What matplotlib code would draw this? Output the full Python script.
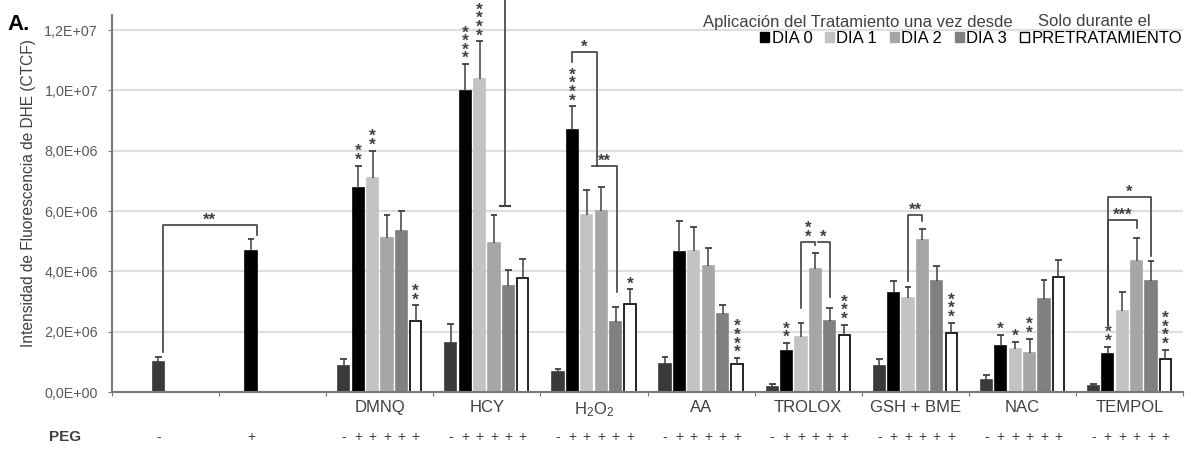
import numpy as np
import matplotlib
matplotlib.use('Agg')
import matplotlib.pyplot as plt
from matplotlib.patches import Patch
from matplotlib.ticker import FuncFormatter

plt.rcParams['font.family'] = ['Liberation Sans', 'DejaVu Sans']
plt.rcParams['mathtext.fontset'] = 'custom'
plt.rcParams['mathtext.rm'] = 'Liberation Sans'

# data (values in units of 1e6 CTCF)
treatments = ['DMNQ', 'HCY', r'$\mathrm{H_2O_2}$', 'AA', 'TROLOX', 'GSH + BME', 'NAC', 'TEMPOL']
series = ['control', 'DIA 0', 'DIA 1', 'DIA 2', 'DIA 3', 'PRETRATAMIENTO']
peg_signs = ['-', '+', '+', '+', '+', '+']

ctrl_mean = [1.00, 4.67]     # first two groups: PEG - / PEG +
ctrl_sem = [0.17, 0.40]
ctrl_slot = [2, 1]

means = [
    [0.87, 6.77, 7.10, 5.10, 5.33, 2.37],   # DMNQ
    [1.63, 9.97, 10.37, 4.93, 3.53, 3.77],  # HCY
    [0.67, 8.70, 5.87, 6.00, 2.33, 2.93],   # H2O2
    [0.93, 4.63, 4.67, 4.17, 2.60, 0.93],   # AA
    [0.17, 1.37, 1.83, 4.07, 2.37, 1.90],   # TROLOX
    [0.87, 3.27, 3.13, 5.03, 3.67, 1.97],   # GSH + BME
    [0.40, 1.53, 1.43, 1.30, 3.07, 3.80],   # NAC
    [0.20, 1.27, 2.70, 4.33, 3.67, 1.10],   # TEMPOL
]
sems = [
    [0.23, 0.73, 0.90, 0.77, 0.67, 0.50],
    [0.64, 0.90, 1.26, 0.94, 0.50, 0.63],
    [0.10, 0.77, 0.83, 0.80, 0.50, 0.47],
    [0.24, 1.04, 0.80, 0.60, 0.27, 0.20],
    [0.10, 0.26, 0.47, 0.53, 0.43, 0.33],
    [0.23, 0.40, 0.34, 0.37, 0.50, 0.33],
    [0.17, 0.37, 0.24, 0.47, 0.63, 0.57],
    [0.05, 0.23, 0.60, 0.77, 0.66, 0.30],
]
# stars above single bars: (treatment index, slot, label)
bar_stars = [
    (0, 1, '**'), (0, 2, '**'), (0, 5, '**'),
    (1, 1, '****'), (1, 2, '****'),
    (2, 1, '****'), (2, 5, '*'),
    (3, 5, '****'),
    (4, 1, '**'), (4, 5, '***'),
    (5, 5, '***'),
    (6, 1, '*'), (6, 2, '*'), (6, 3, '**'),
    (7, 1, '**'), (7, 5, '****'),
]
# brackets: (group L, slot L, group R, slot R, y left, y top, y right, label, vertical label)
brackets = [
    (0, 2.3, 1, 1.4, 1.33, 5.54, 5.20, '**', False),
    (4, 1, 4, 2.7, 10.94, 11.27, 7.49, '*', False),
    (4, 2.35, 4, 4.1, 7.49, 7.49, 3.31, '**', False),
    (6, 2, 6, 3, 2.78, 4.97, 4.87, '**', True),
    (6, 3.15, 6, 4, 4.97, 4.97, 3.15, '*', False),
    (7, 2, 7, 3, 3.68, 5.87, 5.67, '**', False),
    (9, 1, 9, 4, 2.22, 6.47, 4.51, '*', False),
    (9, 1, 9, 3, 2.22, 5.70, 5.44, '***', False),
]
# line cut off at the top in the HCY group
stray_group, stray_slot, stray_bottom, stray_top = 3, 3.77, 6.17, 13.3

colors = ['#3a3a3a', '#000000', '#c3c3c3', '#a6a6a6', '#808080', '#ffffff']
SLOT = 0.1345
WIDTH = 0.105
SCALE = 1e6
LINE = '#404040'


def slot_x(g, s):
    return g + 0.5 + (s - 2.5) * SLOT


fig = plt.figure(figsize=(11.91, 4.49), dpi=100)
ax = fig.add_axes([112 / 1191, 1 - 392 / 449, 1071 / 1191, 377 / 449])


def draw_bar(x, m, e, c):
    ec = '#000000' if c == '#ffffff' else c
    ax.bar(x, m * SCALE, width=WIDTH, color=c, edgecolor=ec, linewidth=1.2, zorder=2)
    top = (m + e) * SCALE
    ax.vlines(x, m * SCALE, top, color=LINE, lw=1.1, zorder=3)
    ax.hlines(top, x - 0.032, x + 0.032, color=LINE, lw=1.3, zorder=3)


for g in range(2):
    draw_bar(slot_x(g, ctrl_slot[g]), ctrl_mean[g], ctrl_sem[g], colors[0] if g == 0 else colors[1])

for t in range(len(treatments)):
    for s in range(6):
        draw_bar(slot_x(t + 2, s), means[t][s], sems[t][s], colors[s])

for t, s, lab in bar_stars:
    top = (means[t][s] + sems[t][s]) * SCALE
    ax.annotate('\n'.join(lab), (slot_x(t + 2, s), top), xytext=(0, -1.5), textcoords='offset points',
                ha='center', va='bottom', fontsize=12.5, fontweight='bold', linespacing=0.47,
                color=LINE, annotation_clip=False)

for gl, sl, gr, sr, yl, yt, yr, lab, vert in brackets:
    xl, xr = slot_x(gl, sl), slot_x(gr, sr)
    ax.plot([xl, xl, xr, xr], [yl * SCALE, yt * SCALE, yt * SCALE, yr * SCALE],
            color=LINE, lw=1.2, zorder=4)
    txt = '\n'.join(lab) if vert else lab
    ax.annotate(txt, ((xl + xr) / 2, yt * SCALE), xytext=(0, -2), textcoords='offset points',
                ha='center', va='bottom', fontsize=12, fontweight='bold', linespacing=0.47, color=LINE)

sx = slot_x(stray_group, stray_slot)
ax.plot([sx, sx], [stray_bottom * SCALE, stray_top * SCALE], color=LINE, lw=1.2, clip_on=False, zorder=4)
ax.hlines(stray_bottom * SCALE, sx - 0.055, sx + 0.055, color=LINE, lw=1.5, zorder=4)

# axes styling
ax.set_xlim(0, 10)
ax.set_ylim(0, 12.5e6)
ax.set_yticks(np.arange(0, 12.1e6, 2e6))
ax.yaxis.set_major_formatter(FuncFormatter(lambda v, p: ('%.1E' % v).replace('.', ',')))
ax.yaxis.grid(True, color='#dedede', lw=1.6)
ax.set_axisbelow(True)
for side in ['top', 'right']:
    ax.spines[side].set_visible(False)
for side in ['left', 'bottom']:
    ax.spines[side].set_color('#7a7a7a')
    ax.spines[side].set_linewidth(1.5)
ax.tick_params(axis='y', length=3, color='#7a7a7a', labelcolor='#595959', labelsize=10.3, pad=7)
ax.set_xticks(np.arange(0, 11))
ax.set_xticklabels([])
ax.set_xticks(np.arange(2.5, 10), minor=True)
ax.set_xticklabels(treatments, minor=True)
ax.tick_params(axis='x', which='major', length=3, color='#7a7a7a')
ax.tick_params(axis='x', which='minor', length=0, pad=6, labelsize=12, labelcolor='#404040')
ax.text(-0.0775, 0.528, 'Intensidad de Fluorescencia de DHE (CTCF)', transform=ax.transAxes,
        rotation=90, ha='center', va='center', fontsize=11.2, color='#404040')

# PEG row
tr = ax.get_xaxis_transform()
ax.text(-0.44, -0.119, 'PEG', transform=tr, ha='center', va='center', fontsize=11,
        fontweight='bold', color='#404040', clip_on=False)
for g in range(2):
    ax.text(slot_x(g, ctrl_slot[g]), -0.119, peg_signs[min(g, 1)], transform=tr, ha='center',
            va='center', fontsize=10, color='#404040')
for t in range(len(treatments)):
    for s in range(6):
        ax.text(slot_x(t + 2, s), -0.119, peg_signs[s], transform=tr, ha='center', va='center',
                fontsize=10, color='#404040')

# legend
handles = [Patch(facecolor=c, edgecolor='#000000' if c == '#ffffff' else c, linewidth=1)
           for c in colors[1:]]
fig.legend(handles, series[1:], ncol=5, loc='upper right', bbox_to_anchor=(1182 / 1191, 1 - 31 / 449),
           frameon=False, fontsize=12, handlelength=0.55, handleheight=0.55, handletextpad=0.15,
           columnspacing=0.75, borderpad=0, borderaxespad=0)
fig.text(703 / 1191, 1 - 22 / 449, 'Aplicación del Tratamiento una vez desde', fontsize=12,
         color='#404040', va='center', ha='left')
fig.text(1038 / 1191, 1 - 22 / 449, 'Solo durante el', fontsize=12, color='#404040', va='center', ha='left')
fig.text(7 / 1191, 1 - 30 / 449, 'A.', fontsize=16, fontweight='bold', va='baseline', ha='left')

fig.savefig('out.png', dpi=100)
